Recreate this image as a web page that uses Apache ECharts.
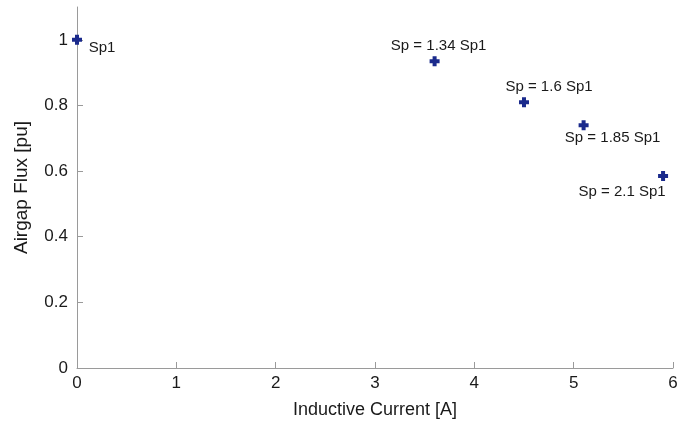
<!DOCTYPE html>
<html>
<head>
<meta charset="utf-8">
<script src="https://cdn.jsdelivr.net/npm/echarts@6/dist/echarts.min.js"></script>
<style>html,body{margin:0;padding:0;background:#fff}#c{width:690px;height:423px}</style>
</head>
<body>
<div id="c"></div>
<script>
const currents = [0, 3.6, 4.5, 5.1, 5.9];
const flux = [1.0, 0.935, 0.81, 0.74, 0.585];
const pointLabels = ['Sp1', 'Sp = 1.34 Sp1', 'Sp = 1.6 Sp1', 'Sp = 1.85 Sp1', 'Sp = 2.1 Sp1'];
const xTicks = [0, 1, 2, 3, 4, 5, 6];
const yTicks = [0, 0.2, 0.4, 0.6, 0.8, 1];

const labelOffsets = [[25, 8], [4, -15], [25, -15], [29, 13], [-41, 16]];

const chart = echarts.init(document.getElementById('c'));
const font = 'Liberation Sans, Arial, sans-serif';
chart.setOption({
  animation: false,
  backgroundColor: '#fff',
  grid: {left: 77, right: 17, top: 7, bottom: 55, containLabel: false, outerBoundsMode: 'none'},
  xAxis: {
    type: 'value', min: 0, max: 6, interval: 1,
    name: 'Inductive Current [A]', nameLocation: 'middle', nameGap: 33,
    nameTextStyle: {fontFamily: font, fontSize: 18, color: '#1a1a1a'},
    axisLine: {lineStyle: {color: '#9a9a9a', width: 1}},
    axisTick: {inside: true, length: 6, lineStyle: {color: '#9a9a9a'}},
    axisLabel: {fontFamily: font, fontSize: 17, color: '#1a1a1a', margin: 7},
    splitLine: {show: false}
  },
  yAxis: {
    type: 'value', min: 0, max: 1.1,
    name: 'Airgap Flux [pu]', nameLocation: 'middle', nameGap: 46, nameRotate: 90,
    nameTextStyle: {fontFamily: font, fontSize: 19, color: '#1a1a1a'},
    axisLine: {show: true, lineStyle: {color: '#9a9a9a', width: 1}},
    axisTick: {show: true, inside: true, length: 6, lineStyle: {color: '#9a9a9a'}, customValues: yTicks},
    axisLabel: {fontFamily: font, fontSize: 17, color: '#1a1a1a', margin: 9, customValues: yTicks},
    splitLine: {show: false}
  },
  series: [{
    type: 'scatter',
    symbol: 'path://M3,0 H7 V3 H10 V7 H7 V10 H3 V7 H0 V3 H3 Z',
    symbolSize: 10,
    itemStyle: {color: '#1a2a8c', opacity: 1},
    data: currents.map((x, i) => ({
      value: [x, flux[i]],
      label: {
        show: true, formatter: pointLabels[i], position: 'inside',
        align: 'center', verticalAlign: 'middle', offset: labelOffsets[i],
        fontFamily: font, fontSize: 15, color: '#1a1a1a'
      }
    }))
  }]
});
</script>
</body>
</html>
